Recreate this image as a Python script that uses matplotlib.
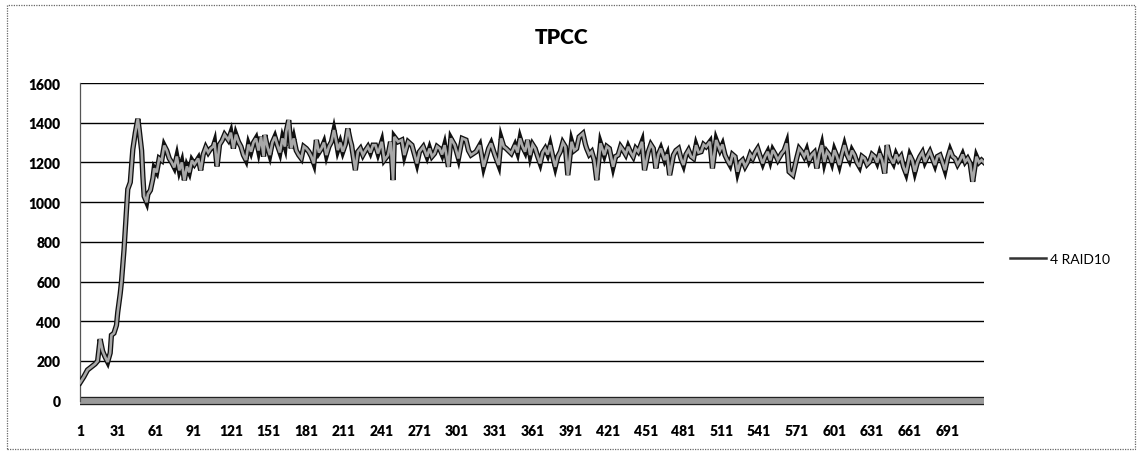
import matplotlib
matplotlib.use("Agg")
import matplotlib.pyplot as plt
import matplotlib.patheffects as pe
from matplotlib.lines import Line2D
from matplotlib.patches import Rectangle

# sample number (x) and TPCC value
sample = [1, 4, 7, 10, 13, 15, 17, 19, 21, 23, 25, 26, 28, 30, 31, 33, 34, 36, 38, 39,
          41, 43, 45, 47, 48, 50, 51, 52, 54, 55, 57, 59, 60, 62, 64, 66, 68, 70, 72, 74,
          76, 78, 80, 82, 84, 86, 88, 90, 92, 95, 97, 99, 101, 103, 105, 107, 108, 110, 112, 114,
          116, 119, 121, 123, 125, 127, 129, 131, 133, 135, 137, 139, 141, 143, 145, 147, 148, 150, 152, 154,
          156, 158, 160, 162, 164, 165, 167, 169, 171, 173, 175, 177, 179, 181, 183, 185, 187, 189, 191, 193,
          195, 197, 199, 201, 203, 205, 206, 208, 210, 212, 214, 216, 217, 220, 222, 224, 226, 228, 230, 232,
          234, 236, 238, 241, 243, 246, 248, 250, 251, 254, 257, 259, 262, 265, 267, 269, 271, 274, 277, 279,
          281, 283, 285, 287, 289, 291, 294, 296, 299, 302, 305, 308, 310, 312, 316, 319, 322, 326, 328, 331,
          334, 336, 338, 340, 344, 347, 349, 351, 353, 355, 357, 359, 361, 363, 365, 367, 369, 371, 373, 375,
          377, 379, 381, 383, 385, 387, 389, 392, 394, 396, 398, 401, 403, 404, 406, 408, 410, 412, 415, 418,
          420, 422, 425, 427, 429, 431, 433, 435, 437, 439, 441, 443, 445, 448, 450, 453, 455, 457, 459, 461,
          463, 466, 468, 470, 473, 475, 477, 479, 481, 483, 485, 487, 489, 491, 493, 495, 497, 499, 502, 504,
          507, 510, 512, 514, 516, 518, 520, 522, 524, 526, 528, 530, 532, 534, 536, 538, 540, 542, 544, 546,
          548, 550, 552, 554, 556, 559, 561, 563, 565, 568, 571, 573, 575, 577, 579, 581, 583, 585, 587, 589,
          591, 593, 595, 597, 599, 601, 603, 605, 607, 609, 611, 613, 615, 617, 619, 621, 623, 625, 627, 629,
          631, 633, 635, 637, 639, 641, 643, 645, 648, 650, 652, 654, 656, 658, 661, 663, 665, 667, 669, 671,
          673, 675, 677, 679, 681, 683, 685, 687, 689, 691, 693, 695, 697, 699, 701, 703, 705, 707, 709, 711,
          714, 716, 718, 720]
tpcc = [90, 120, 155, 170, 185, 200, 310, 250, 220, 195, 240, 330, 340, 380, 445, 540, 600, 760, 960, 1065,
        1100, 1265, 1350, 1420, 1370, 1260, 1130, 1030, 1000, 1040, 1060, 1120, 1170, 1150, 1220, 1210, 1285, 1260, 1220, 1200,
        1175, 1230, 1160, 1200, 1110, 1180, 1150, 1210, 1190, 1220, 1160, 1240, 1275, 1250, 1270, 1280, 1300, 1180, 1290, 1310,
        1340, 1313, 1350, 1270, 1340, 1304, 1280, 1237, 1212, 1290, 1254, 1300, 1321, 1260, 1329, 1230, 1338, 1280, 1237, 1300,
        1329, 1287, 1250, 1321, 1280, 1354, 1413, 1270, 1321, 1260, 1237, 1220, 1280, 1270, 1254, 1230, 1195, 1313, 1250, 1270,
        1300, 1237, 1280, 1304, 1363, 1300, 1262, 1300, 1254, 1290, 1371, 1310, 1287, 1161, 1254, 1270, 1237, 1260, 1279, 1250,
        1287, 1287, 1245, 1304, 1212, 1237, 1304, 1111, 1329, 1304, 1313, 1237, 1304, 1287, 1240, 1195, 1254, 1279, 1229, 1270,
        1230, 1245, 1280, 1270, 1240, 1287, 1178, 1321, 1287, 1220, 1321, 1313, 1260, 1237, 1254, 1287, 1178, 1270, 1296, 1237,
        1187, 1321, 1280, 1270, 1245, 1287, 1250, 1321, 1280, 1254, 1313, 1237, 1290, 1270, 1230, 1195, 1250, 1270, 1240, 1287,
        1230, 1178, 1230, 1254, 1300, 1279, 1136, 1304, 1260, 1270, 1329, 1346, 1290, 1270, 1240, 1254, 1212, 1111, 1296, 1237,
        1280, 1270, 1178, 1230, 1237, 1280, 1262, 1240, 1279, 1250, 1229, 1270, 1254, 1304, 1161, 1254, 1290, 1270, 1170, 1240,
        1270, 1212, 1240, 1136, 1237, 1260, 1270, 1220, 1187, 1240, 1262, 1230, 1220, 1287, 1250, 1254, 1290, 1279, 1304, 1170,
        1313, 1262, 1290, 1237, 1210, 1187, 1240, 1229, 1153, 1200, 1212, 1180, 1203, 1240, 1220, 1250, 1270, 1230, 1195, 1230,
        1254, 1210, 1262, 1240, 1212, 1245, 1260, 1296, 1153, 1136, 1220, 1270, 1254, 1230, 1262, 1210, 1237, 1250, 1170, 1240,
        1287, 1203, 1254, 1237, 1200, 1262, 1230, 1187, 1240, 1287, 1240, 1212, 1260, 1237, 1200, 1178, 1230, 1220, 1190, 1203,
        1240, 1229, 1200, 1245, 1210, 1145, 1287, 1230, 1195, 1240, 1212, 1230, 1178, 1145, 1237, 1210, 1153, 1200, 1229, 1250,
        1203, 1230, 1254, 1220, 1187, 1230, 1237, 1200, 1161, 1220, 1262, 1230, 1220, 1190, 1212, 1240, 1203, 1220, 1195, 1103,
        1229, 1200, 1212, 1200]

xticks = list(range(1, 692, 30))
yticks = list(range(0, 1601, 200))
series_name = "4 RAID10"

plt.rcParams['font.family'] = ['Lato', 'DejaVu Sans']

fig = plt.figure(figsize=(11.44, 4.56), dpi=100)
ax = fig.add_axes([80/1144, 1 - 401.7/456, 904/1144, 317.7/456])

# chart border
fig.add_artist(Rectangle((7/1144, 6/456), 1128/1144, 444/456, transform=fig.transFigure,
                         fill=False, edgecolor='#666666', lw=0.9, linestyle=(0, (1, 1))))

for y in yticks[1:]:
    ax.axhline(y, color='black', lw=1.0, zorder=1)

# thick zero axis band
ax.axhline(0, color='#9a9a9a', lw=4.2, clip_on=False, zorder=2, solid_capstyle='butt',
           path_effects=[pe.Stroke(linewidth=6, foreground='#222222', capstyle='butt'), pe.Normal()])

ax.plot(sample, tpcc, color='#a8a8a8', lw=1.9, zorder=3, solid_joinstyle='miter',
        path_effects=[pe.Stroke(linewidth=3.8, foreground='#111111'), pe.Normal()])

ax.set_xlim(1, 720)
ax.set_ylim(0, 1600)
ax.set_xticks(xticks)
ax.set_yticks(yticks)
ax.tick_params(length=0)
ax.tick_params(axis='y', pad=14, labelsize=10)
ax.tick_params(axis='x', pad=17, labelsize=10)
for lab in ax.get_xticklabels() + ax.get_yticklabels():
    lab.set_fontweight('heavy')

for s in ['top', 'right', 'bottom']:
    ax.spines[s].set_visible(False)
ax.spines['left'].set_color('#555555')
ax.spines['left'].set_linestyle((0, (1, 1)))
ax.spines['left'].set_linewidth(0.9)

fig.text(562/1144, 1 - 38/456, "TPCC", ha='center', va='center', fontsize=15, fontweight='heavy')

handle = Line2D([], [], color='#333333', lw=1.8)
ax.legend([handle], [series_name], loc='center left', bbox_to_anchor=(1010/1144, 1 - 260/456),
          bbox_transform=fig.transFigure, frameon=False, fontsize=10, handlelength=2.6,
          handletextpad=0.25, borderpad=0, borderaxespad=0)

fig.savefig("out.png", dpi=100)
